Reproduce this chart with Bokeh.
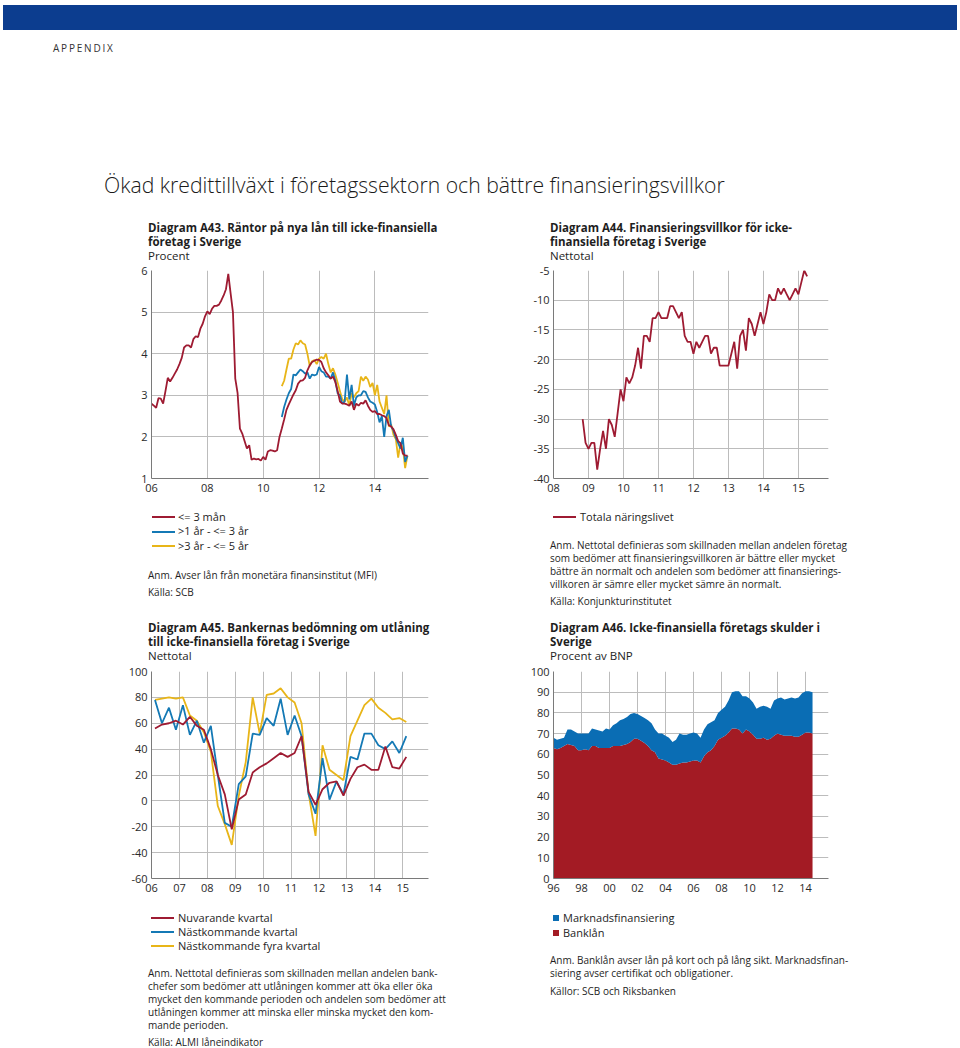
import numpy as np
from bokeh.plotting import figure
from bokeh.models import Div, FixedTicker, Range1d, ColumnDataSource, CustomJSTickFormatter
from bokeh.layouts import column, row
from bokeh.embed import file_html
from bokeh.resources import INLINE

# ---------------- data ----------------
# Diagram A43: monthly, Jan 2006 onwards (percent)
a43_start = 2006.0
a43_short = [2.80, 2.75, 2.70, 2.93, 2.92, 2.80, 3.10, 3.42, 3.33, 3.42,
             3.52, 3.62, 3.75, 3.90, 4.15, 4.20, 4.20, 4.15, 4.35, 4.42,
             4.40, 4.60, 4.72, 4.90, 5.02, 4.95, 5.08, 5.15, 5.15, 5.18,
             5.28, 5.40, 5.55, 5.92, 5.45, 5.00, 3.40, 3.05, 2.20, 2.08,
             1.90, 1.72, 1.80, 1.45, 1.48, 1.46, 1.47, 1.43, 1.52, 1.45,
             1.65, 1.68, 1.67, 1.65, 1.68, 2.00, 2.20, 2.42, 2.65, 2.78,
             2.90, 3.02, 3.12, 3.28, 3.35, 3.36, 3.42, 3.60, 3.72, 3.80,
             3.83, 3.86, 3.85, 3.80, 3.65, 3.55, 3.48, 3.40, 3.45, 3.32,
             3.10, 2.85, 2.80, 2.80, 2.78, 2.75, 2.85, 2.65, 2.80, 2.75,
             2.82, 2.80, 2.88, 2.75, 2.65, 2.60, 2.62, 2.55, 2.55, 2.52,
             2.50, 2.45, 2.28, 2.25, 2.18, 2.05, 1.90, 1.85, 1.60, 1.55,
             1.55]
a43_other_offset = 56  # months after Jan 2006 where the longer maturities start
a43_mid = [2.48, 2.72, 2.90, 3.05, 3.15, 3.50, 3.48, 3.55, 3.62, 3.58,
           3.52, 3.55, 3.40, 3.50, 3.48, 3.50, 3.68, 3.58, 3.55, 3.45,
           3.45, 3.40, 3.55, 3.35, 3.05, 3.00, 2.80, 2.85, 3.50, 2.90,
           3.25, 2.75, 2.95, 3.00, 3.00, 3.10, 3.08, 2.95, 2.85, 2.82,
           2.78, 2.60, 2.35, 2.50, 2.00, 2.50, 2.65, 2.25, 2.15, 1.98,
           1.85, 1.72, 1.98, 1.40, 1.55]
a43_long = [3.22, 3.35, 3.62, 3.88, 3.88, 4.10, 4.25, 4.22, 4.32, 4.25,
            4.22, 4.00, 3.70, 3.82, 3.85, 3.75, 3.88, 3.92, 3.88, 4.00,
            3.75, 3.55, 3.65, 3.50, 3.30, 3.10, 2.90, 2.85, 2.95, 2.75,
            3.05, 2.95, 3.05, 3.10, 3.45, 3.35, 3.45, 3.38, 3.20, 3.30,
            3.00, 3.25, 2.85, 2.70, 2.55, 3.00, 2.25, 2.30, 2.05, 1.95,
            1.50, 1.85, 1.75, 1.25, 1.55]

# Diagram A44: monthly, Nov 2008 onwards (net balance)
a44_start = 2008 + 10 / 12
a44_total = [-30, -34, -35, -34, -34, -38.5, -35, -32, -35, -30,
             -31, -33, -29, -25, -27, -23, -24, -23, -21, -18,
             -21.5, -16, -16, -17, -13, -13, -12, -13, -13, -13,
             -11, -11, -12, -13, -12, -16, -17, -17, -19, -17,
             -18, -17, -16, -16, -19, -18, -18, -21, -21, -21,
             -21, -19, -17, -21.5, -16, -15, -18.5, -13, -14, -16,
             -14, -12, -14, -12, -9, -10, -10, -8, -9, -8,
             -9, -10, -9, -8, -9, -7, -5, -6]

# Diagram A45: quarterly, 2006 Q1 onwards (net balance)
a45_start = 2006.125
a45_now = [56, 59, 60, 62, 59, 65, 58, 55, 40, 20, 5, -22, 1, 5, 22, 26, 29, 33, 37,
           34, 37, 50, 7, -3, 9, 14, 15, 4, 17, 26, 28, 24, 24, 42, 26, 25, 34]
a45_next = [78, 60, 72, 55, 74, 51, 62, 45, 58, 20, -17, -20, 13, 19, 52, 51, 64, 58, 79,
            51, 66, 50, 5, -10, 33, 1, 15, 5, 34, 32, 52, 52, 43, 40, 46, 37, 50]
a45_four = [78, 79, 80, 79, 80, 66, 62, 53, 38, -4, -18, -34, 4, 30, 80, 52, 82, 83, 87,
            80, 76, 60, 6, -27, 43, 24, 20, 16, 50, 62, 74, 79, 72, 68, 63, 64, 61]

# Diagram A46: quarterly, 1996 Q1 onwards (percent of GDP)
a46_start = 1996.0
a46_bank = [63, 62.5, 63, 64, 65, 64.5, 64, 62, 62, 62.5,
            62, 64, 64, 63, 63, 63, 63, 64, 64, 64,
            64.5, 65, 66, 67.5, 67.5, 66.5, 65.5, 64, 62, 61,
            58, 57.5, 57, 56, 55, 55, 55.5, 56, 56, 56.5,
            57, 57, 56, 59, 61, 62, 64, 67, 68, 69,
            70.5, 72.5, 72.5, 72, 70, 72, 71, 69.5, 67.5, 67.5,
            68, 67, 67.5, 69, 70, 69.5, 69, 69, 69, 68.5,
            68.5, 69.5, 70.5, 70.5, 70]
a46_market = [5, 4.5, 4.5, 4, 7, 7.5, 7, 8, 8, 7.5,
              8, 8.5, 8, 8.5, 8, 9.5, 9, 10, 11, 12.5,
              12.5, 13, 13.5, 12.5, 12, 12, 12, 12.5, 13, 11,
              12, 12.5, 12, 12, 11, 12, 14.5, 13.5, 13.5, 13.5,
              13.5, 13, 12, 13, 13.5, 13.5, 12.5, 13, 13.5, 14,
              15.5, 17.5, 18, 18.5, 18, 16, 16, 15.5, 14.5, 15.5,
              15.5, 16, 14.5, 17, 17, 18, 17.5, 18, 18.5, 18.5,
              19, 20, 20, 20, 20]

a43_xticks = [2006, 2008, 2010, 2012, 2014]
a43_yticks = [1, 2, 3, 4, 5, 6]
a44_xticks = [2008, 2009, 2010, 2011, 2012, 2013, 2014, 2015]
a44_yticks = [-40, -35, -30, -25, -20, -15, -10, -5]
a45_xticks = list(range(2006, 2016))
a45_yticks = [-60, -40, -20, 0, 20, 40, 60, 80, 100]
a46_xticks = list(range(1996, 2016, 2))
a46_yticks = list(range(0, 101, 10))

# ---------------- style ----------------
RED = "#9e1b32"
BLUE = "#1479b5"
YELLOW = "#e8b518"
AREA_RED = "#a31b24"
AREA_BLUE = "#0a6db4"
GRID = "#bcbcbc"
AXIS = "#7a7a7a"
FONT = "Open Sans"
TXT = "#1e1e1e"


def base_fig(xr, yr, xticks, yticks, left, frame_w, top, frame_h, right=10, bottom=25):
    p = figure(width=left + frame_w + right, height=top + frame_h + bottom,
               x_range=Range1d(*xr), y_range=Range1d(*yr),
               output_backend="svg", toolbar_location=None,
               min_border_left=left, min_border_right=right,
               min_border_top=top, min_border_bottom=bottom)
    p.outline_line_color = None
    p.xaxis.ticker = FixedTicker(ticks=xticks)
    p.yaxis.ticker = FixedTicker(ticks=yticks)
    p.xaxis.formatter = CustomJSTickFormatter(
        code="var v = Math.round(tick) % 100; return (v < 10 ? '0' : '') + v;")
    p.yaxis.formatter = CustomJSTickFormatter(
        code="var v = Math.round(tick); return (v < 0 ? '-' : '') + Math.abs(v);")
    p.xgrid.ticker = FixedTicker(ticks=xticks)
    p.ygrid.ticker = FixedTicker(ticks=yticks)
    for g in (p.xgrid, p.ygrid):
        g.grid_line_color = GRID
        g.grid_line_width = 1
    for ax in (p.xaxis, p.yaxis):
        ax.axis_line_color = AXIS
        ax.axis_line_width = 1
        ax.major_tick_out = 0
        ax.major_tick_in = 0
        ax.minor_tick_line_color = None
        ax.major_label_text_font = FONT
        ax.major_label_text_font_size = "11px"
        ax.major_label_text_color = "#2a2a2a"
    p.xaxis.major_label_standoff = 5
    p.yaxis.major_label_standoff = 4
    return p


# A43
p43 = base_fig((2006, 2015.92), (1, 6), a43_xticks, a43_yticks, 151, 277, 8, 208)
x43 = a43_start + np.arange(len(a43_short)) / 12
x43o = a43_start + (a43_other_offset + np.arange(len(a43_mid))) / 12
p43.line(x43o, a43_long, line_color=YELLOW, line_width=1.8)
p43.line(x43o, a43_mid, line_color=BLUE, line_width=1.8)
p43.line(x43, a43_short, line_color=RED, line_width=1.8)

# A44
p44 = base_fig((2008, 2015.86), (-40, -5), a44_xticks, a44_yticks, 45, 275, 8, 208)
x44 = a44_start + np.arange(len(a44_total)) / 12
p44.line(x44, a44_total, line_color=RED, line_width=1.8)

# A45
p45 = base_fig((2006, 2015.92), (-60, 100), a45_xticks, a45_yticks, 151, 277, 9, 207)
x45 = a45_start + np.arange(len(a45_now)) * 0.25
p45.line(x45, a45_four, line_color=YELLOW, line_width=1.8)
p45.line(x45, a45_next, line_color=BLUE, line_width=1.8)
p45.line(x45, a45_now, line_color=RED, line_width=1.8)

# A46
p46 = base_fig((1996, 2015.64), (0, 100), a46_xticks, a46_yticks, 45, 275, 9, 207)
src46 = ColumnDataSource(dict(x=a46_start + np.arange(len(a46_bank)) * 0.25,
                              bank=a46_bank, market=a46_market))
p46.varea_stack(["bank", "market"], x="x", color=[AREA_RED, AREA_BLUE], source=src46)


# ---------------- text blocks ----------------
def item(x, cy, html, size=11, weight=400, color=TXT, extra=""):
    lh = round(size * 1.3, 1)
    top = cy - lh / 2
    return (f'<div style="position:absolute;left:{x}px;top:{top}px;white-space:nowrap;'
            f'font-family:\'{FONT}\';font-size:{size}px;line-height:{lh}px;font-weight:{weight};'
            f'color:{color};{extra}">{html}</div>')


def swatch_line(x, cy, color, w=23):
    return (f'<div style="position:absolute;left:{x}px;top:{cy - 1}px;width:{w}px;height:2px;'
            f'background:{color};"></div>')


def swatch_sq(x, cy, color, s=6):
    return (f'<div style="position:absolute;left:{x}px;top:{cy - s / 2}px;width:{s}px;height:{s}px;'
            f'background:{color};"></div>')


def block(width, height, parts):
    return Div(text=f'<div style="position:relative;width:{width}px;height:{height}px;">'
                    + "".join(parts) + '</div>',
               width=width, height=height, margin=0)


header = block(960, 208, [
    '<div style="position:absolute;left:3px;top:5px;width:954px;height:25px;background:#0c3d8f;"></div>',
    item(53, 48, "APPENDIX", size=10, color="#333", extra="letter-spacing:1.8px;"),
    item(104, 185, "Ökad kredittillväxt i företagssektorn och bättre finansieringsvillkor",
         size=21.2, weight=300, color="#1a1a1a"),
])

LW, RW = 508, 444

l_t1 = block(LW, 54, [
    item(148, 19, "Diagram A43. Räntor på nya lån till icke-finansiella", size=11.5, weight=700),
    item(148, 33, "företag i Sverige", size=11.5, weight=700),
    item(148, 47, "Procent", size=11.5),
])
l_mid = block(LW, 159, [
    swatch_line(152, 14, RED), item(178, 14, "&lt;= 3 mån"),
    swatch_line(152, 28.5, BLUE), item(178, 28.5, "&gt;1 år -  &lt;= 3 år"),
    swatch_line(152, 43, YELLOW), item(178, 43, "&gt;3 år -  &lt;= 5 år"),
    item(148, 72, "Anm. Avser lån från monetära finansinstitut (MFI)", size=10),
    item(148, 89, "Källa: SCB", size=10),
    item(148, 124, "Diagram A45. Bankernas bedömning om utlåning", size=11.5, weight=700),
    item(148, 138, "till icke-finansiella företag i Sverige", size=11.5, weight=700),
    item(148, 152, "Nettotal", size=11.5),
])
l_bot = block(LW, 142, [
    swatch_line(151, 15, RED), item(178, 15, "Nuvarande kvartal"),
    swatch_line(151, 29, BLUE), item(178, 29, "Nästkommande kvartal"),
    swatch_line(151, 43, YELLOW), item(178, 43, "Nästkommande fyra kvartal"),
    item(148, 70, "Anm. Nettotal definieras som skillnaden mellan andelen bank-", size=10),
    item(148, 83, "chefer som bedömer att utlåningen kommer att öka eller öka", size=10),
    item(148, 96, "mycket den kommande perioden och andelen som bedömer att", size=10),
    item(148, 109, "utlåningen kommer att minska eller minska mycket den kom-", size=10),
    item(148, 122, "mande perioden.", size=10),
    item(148, 139, "Källa: ALMI låneindikator", size=10),
])

r_t1 = block(RW, 54, [
    item(42, 19, "Diagram A44. Finansieringsvillkor för icke-", size=11.5, weight=700),
    item(42, 33, "finansiella företag i Sverige", size=11.5, weight=700),
    item(42, 47, "Nettotal", size=11.5),
])
r_mid = block(RW, 159, [
    swatch_line(45, 14, RED), item(72, 14, "Totala näringslivet"),
    item(42, 42, "Anm. Nettotal definieras som skillnaden mellan andelen företag", size=10),
    item(42, 55, "som bedömer att finansieringsvillkoren är bättre eller mycket", size=10),
    item(42, 68, "bättre än normalt och andelen som bedömer att finansierings-", size=10),
    item(42, 81, "villkoren är sämre eller mycket sämre än normalt.", size=10),
    item(42, 98, "Källa: Konjunkturinstitutet", size=10),
    item(42, 124, "Diagram A46. Icke-finansiella företags skulder i", size=11.5, weight=700),
    item(42, 138, "Sverige", size=11.5, weight=700),
    item(42, 152, "Procent av BNP", size=11.5),
])
r_bot = block(RW, 142, [
    swatch_sq(45, 15, AREA_BLUE), item(55, 15, "Marknadsfinansiering"),
    swatch_sq(45, 30, AREA_RED), item(55, 30, "Banklån"),
    item(42, 57, "Anm. Banklån avser lån på kort och på lång sikt. Marknadsfinan-", size=10),
    item(42, 70, "siering avser certifikat och obligationer.", size=10),
    item(42, 88, "Källor: SCB och Riksbanken", size=10),
])

left_col = column(l_t1, p43, l_mid, p45, l_bot, width=LW)
right_col = column(r_t1, p44, r_mid, p46, r_bot, width=RW)
page = column(header, row(left_col, right_col))

open("out.html", "w").write(file_html(page, INLINE))
